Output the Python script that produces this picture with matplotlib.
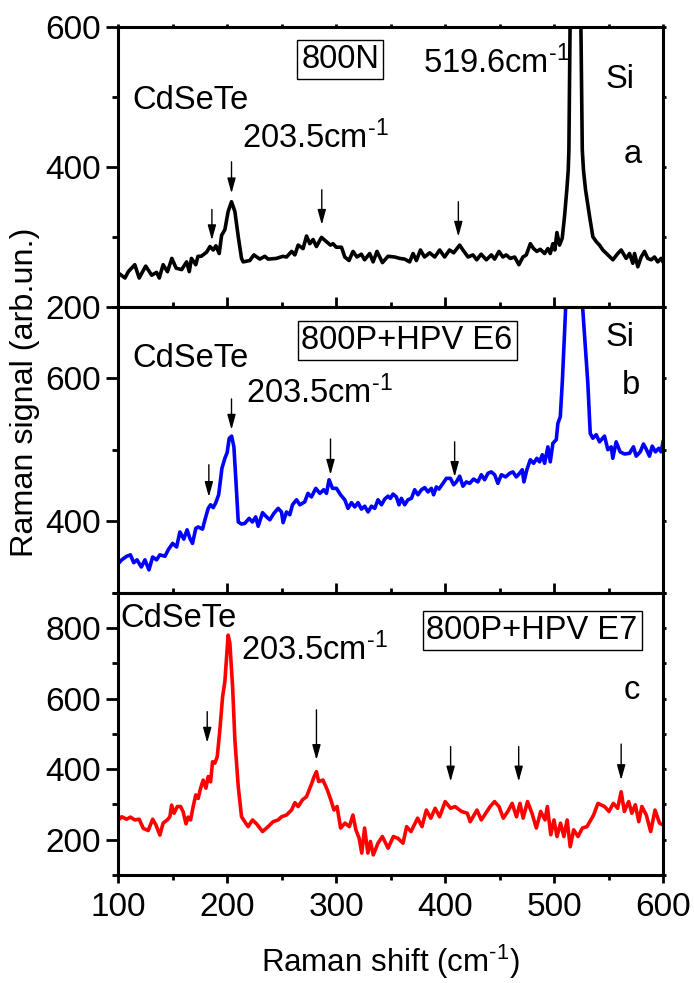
import matplotlib

matplotlib.use("Agg")
import matplotlib.pyplot as plt
from matplotlib.ticker import MultipleLocator

plt.rcParams.update({
    "font.family": "Liberation Sans",
    "mathtext.fontset": "custom",
    "mathtext.rm": "Liberation Sans",
    "mathtext.default": "regular",
    "axes.linewidth": 2.2,
})

# ---- spectrum a: 800N (black) ----
shift_a = [100, 106, 109, 115, 119, 125, 130.5, 135, 137.5, 141, 145, 149, 153, 158, 162.6, 165,
           167, 171, 173, 176, 181, 184, 187, 189.5, 192.5, 194.7, 197.7, 200.7, 203.8, 206.9,
           210, 213, 214.5, 220.6, 224.3, 229.8, 234.4, 237.4, 245, 251, 254.3, 259, 262, 265,
           269.5, 272.7, 275.7, 278.7, 281.8, 286.4, 291, 294.7, 297, 300, 304.8, 307.8, 311.7,
           315.4, 319, 323, 326, 330.7, 333.8, 337.4, 342.4, 347.5, 353.7, 358.3, 362.8, 367.4,
           370.5, 373.6, 377.3, 381, 385.8, 390.4, 395, 399.5, 404, 407.8, 413.3, 416.3, 421,
           425.5, 429, 433, 437.8, 442.4, 445.4, 449.4, 453, 456, 459.8, 463.8, 467.7, 471.4,
           474.5, 478.2, 481.2, 484.2, 487.3, 491.3, 494.3, 496.5, 498.9, 500.7, 502.6, 505,
           507.5, 509.6, 511.7, 513, 513.6, 516.5, 519.6, 522.5, 525.9, 527, 528.9, 532.6, 535.6,
           538.7, 541.7, 544.8, 549.4, 554, 558.5, 561.6, 566.2, 569.3, 572.3, 573.9, 576.9, 580,
           583, 586, 589.2, 592.2, 595.2, 598.3, 600]
signal_a = [248, 241, 250, 260, 241, 258, 245, 249, 241, 260, 250, 269, 255, 253, 264, 250,
            269, 260, 272, 272, 278, 286, 281, 287, 276, 302, 310, 336, 350, 336,
            300, 269, 264, 266, 274, 268, 272, 268, 269, 272, 271, 279, 274, 288,
            283, 301, 290, 296, 286, 299, 293, 288, 290, 285, 285, 271, 266,
            279, 271, 275, 267, 276, 264, 279, 263, 272, 271, 269, 268, 264,
            276, 266, 281, 271, 277, 271, 281, 271, 281, 277, 288, 281, 271,
            274, 267, 275, 267, 274, 268, 279, 271, 274, 269, 271, 260, 271,
            274, 290, 283, 279, 282, 276, 283, 276, 290, 281, 306, 288,
            298, 329, 367, 395, 424, 900, 1500, 900, 424, 395, 367, 329, 300,
            293, 288, 281, 274, 267, 276, 281, 269, 276, 262, 276, 257, 271,
            279, 269, 267, 271, 264, 269, 264]

# ---- spectrum b: 800P+HPV E6 (blue) ----
shift_b = [100, 103, 107.5, 111, 114, 117, 121, 124.3, 128, 131.4, 135, 138, 142.7, 145.7, 149.7,
           153.4, 156.4, 160, 163, 165.6, 168, 171, 173.2, 177.2, 179.4, 182.4, 184.6, 187, 189.4,
           192, 195, 197.7, 199.8, 201.7, 203.9, 206, 207.8, 210, 213, 216, 220, 223, 226, 228.3,
           232.3, 236, 239, 242.7, 246.6, 249.7, 251.2, 254.3, 257.3, 259.8, 263.5, 266.5, 271,
           274, 277.2, 281.2, 284.9, 288.5, 291, 293.4, 296.5, 300.2, 303.9, 307.8, 310.8, 314,
           317, 320, 323.1, 326.1, 329.2, 332.3, 335.3, 338.3, 341.5, 344.5, 347.5, 349.7, 352.1,
           355.2, 357.6, 359.8, 362.8, 365.8, 369, 372, 375, 378.2, 381.2, 384.2, 387.3, 389.4,
           391.9, 394.3, 398, 401.1, 404.8, 407.8, 410.3, 413.3, 416.3, 419.4, 422.5, 426.1, 430,
           433.2, 436.2, 439.3, 442.4, 445.4, 448.4, 451.6, 455.5, 459.2, 462.2, 465.3, 468.3,
           470.8, 472.3, 475, 478.2, 481.2, 484.2, 486.7, 489.2, 491.3, 494.3, 496.5, 498.9, 502,
           503.5, 505.7, 507.5, 509.6, 513.5, 518.8, 524.5, 526.4, 528.9, 531, 533.2, 535.6, 538.7,
           541.7, 546.3, 549.4, 552.5, 553.9, 557, 560.7, 564.7, 569.3, 572.9, 575.4, 579.1, 582.1,
           584.6, 587.6, 590.1, 593.1, 596.1, 598.3, 600]
signal_b = [341, 346, 351, 353, 342, 346, 336, 346, 332, 350, 346, 353, 351, 360, 369,
            364, 385, 375, 388, 376, 369, 390, 392, 389, 402, 418, 423, 419, 426,
            437, 474, 488, 496, 516, 519, 504, 458, 399, 396, 397, 404, 399, 406, 393,
            412, 406, 402, 411, 418, 413, 398, 413, 409, 423, 430, 423, 427,
            439, 434, 446, 439, 444, 439, 458, 446, 446, 437, 430, 418, 426,
            420, 426, 417, 421, 413, 421, 418, 430, 423, 431, 435, 432, 438,
            434, 423, 432, 423, 430, 432, 444, 437, 444, 447, 441, 446, 437,
            448, 445, 453, 460, 460, 451, 455, 463, 449, 455, 453, 459, 455,
            465, 458, 467, 469, 465, 453, 465, 462, 467, 469, 462, 467,
            472, 455, 472, 486, 481, 488, 483, 493, 481, 504, 483, 509, 514,
            537, 546, 593, 663, 800, 1200, 800, 695, 640, 593, 523, 516, 521,
            511, 519, 500, 504, 488, 511, 497, 494, 495, 504, 491, 497, 508,
            501, 491, 505, 497, 502, 497, 511]

# ---- spectrum c: 800P+HPV E7 (red) ----
shift_c = [100, 103, 107.5, 111, 115, 119, 122.8, 127.3, 131.4, 134.4, 138, 141, 144.8, 147.2,
           148.8, 151, 154, 157, 159.4, 162, 164, 166.2, 168.6, 171, 173.2, 175.4, 177.8, 180.3,
           182.4, 184.6, 186.4, 188.5, 190.7, 193.1, 195.6, 197.7, 199.3, 200.7, 202.3, 204.8,
           206.9, 210, 213, 216, 219, 223.1, 226.8, 232.3, 237.4, 242, 246.6, 249.7, 254.3, 258.9,
           262, 265, 269, 272.7, 275, 277.5, 279.7, 281.8, 283.8, 287.8, 291.8, 295, 297.9, 300.7,
           304, 308, 312, 315.3, 318, 321, 323.4, 326, 329, 331.4, 334, 338.3, 342.3, 347.6,
           352.4, 356.5, 361.3, 364.6, 368.6, 374.7, 378.7, 382.7, 386.8, 390.8, 394.9, 400, 405,
           409, 415, 420.3, 423, 429.2, 433.2, 437.3, 441.3, 445.3, 449.4, 453.4, 457.5, 461.5,
           465.5, 468.7, 471.6, 475.6, 479.7, 483.7, 487.7, 491.7, 493.8, 497, 499.9, 502.7, 505.9,
           509, 512, 514.8, 518, 522, 526, 530.2, 536.3, 540.3, 546.3, 550.4, 554.4, 558.4, 561.6,
           564.5, 568.5, 571.4, 574.6, 577.8, 580.6, 584.7, 588.7, 592.7, 596.8, 600]
signal_c = [256, 265, 258, 264, 256, 258, 232, 226, 258, 242, 213, 247, 256, 265,
            298, 275, 294, 294, 279, 245, 264, 256, 294, 327, 317, 346, 369, 346,
            379, 364, 421, 417, 435, 511, 605, 648, 719, 780, 757, 634,
            483, 350, 265, 251, 237, 256, 245, 223, 237, 251, 256, 265, 270, 284,
            305, 294, 313, 322, 340, 360, 379, 393, 365, 369, 341, 313, 284, 294,
            233, 247, 237, 270, 228, 204, 162, 233, 162, 195, 157, 190, 209, 176,
            209, 204, 190, 237, 223, 261, 237, 284, 261, 289, 265, 308, 289,
            294, 280, 275, 251, 284, 256, 275, 294, 308, 294, 261, 280, 303,
            265, 303, 261, 308, 275, 233, 280, 256, 294, 214, 256, 209, 247,
            209, 256, 180, 228, 209, 233, 237, 270, 303, 294, 280, 303, 289, 336,
            280, 308, 275, 299, 251, 294, 270, 223, 284, 247, 242]

# arrow markers: (shift, tail, tip)
arrows_a = [(185.8, 339, 295), (203.8, 407, 362), (286.7, 367, 317), (412.1, 350, 300)]
arrows_b = [(183, 479, 434), (203.8, 571, 528), (294.7, 515, 465), (408.7, 511, 462)]
arrows_c = [(181.5, 563, 475), (281.8, 568, 426), (405, 464, 365), (467.5, 464, 365), (561.6, 471, 369)]

FS_TEXT = 23.5
FS_TICK = 24
LW = 2.6
CM = r"cm$^{\text{-1}}$"


def style_axes(ax, ylim, bottom_out):
    ax.set_xlim(100, 600)
    ax.set_ylim(*ylim)
    ax.xaxis.set_major_locator(MultipleLocator(100))
    ax.xaxis.set_minor_locator(MultipleLocator(50))
    ax.yaxis.set_major_locator(MultipleLocator(200))
    ax.yaxis.set_minor_locator(MultipleLocator(100))
    ax.tick_params(axis="y", which="both", left=True, right=False, direction="out",
                   labelsize=FS_TICK, width=2, pad=4)
    ax.tick_params(axis="y", which="major", length=8.5)
    ax.tick_params(axis="y", which="minor", length=4.3)
    ax.tick_params(axis="x", which="both", bottom=True, top=False, width=2,
                   direction="out" if bottom_out else "in", labelsize=FS_TICK, pad=6,
                   labelbottom=bottom_out)
    ax.tick_params(axis="x", which="major", length=6 if bottom_out else 7)
    ax.tick_params(axis="x", which="minor", length=3.6)
    # short outward nubs on the right-hand frame
    rax = ax.secondary_yaxis("right")
    rax.yaxis.set_major_locator(MultipleLocator(100))
    rax.tick_params(axis="y", direction="out", length=2.2, width=2, labelright=False)
    rax.spines["right"].set_visible(False)


def draw_arrows(ax, arrows):
    for x, tail, tip in arrows:
        ax.annotate("", xy=(x, tip), xytext=(x, tail),
                    arrowprops=dict(arrowstyle="-|>,head_length=0.65,head_width=0.18",
                                    color="black", lw=1, shrinkA=0, shrinkB=0,
                                    mutation_scale=14))


def boxed(ax, x, y, s):
    ax.text(x, y, s, fontsize=FS_TEXT, ha="center", va="center",
            bbox=dict(boxstyle="square,pad=0.12", fc="white", ec="black", lw=1))


fig = plt.figure(figsize=(6.94, 9.83), dpi=100)
ax_a = fig.add_axes([0.1707, 0.6880, 0.7846, 0.2848])
ax_b = fig.add_axes([0.1707, 0.3970, 0.7846, 0.2910])
ax_c = fig.add_axes([0.1707, 0.1099, 0.7846, 0.2871])

# a
ax_a.plot(shift_a, signal_a, color="black", lw=LW)
style_axes(ax_a, (200, 600), False)
tax = ax_a.secondary_xaxis("top")
tax.xaxis.set_major_locator(MultipleLocator(50))
tax.tick_params(axis="x", direction="out", length=2.2, width=2, labeltop=False)
tax.spines["top"].set_visible(False)
draw_arrows(ax_a, arrows_a)
boxed(ax_a, 303.5, 553, "800N")
ax_a.text(379.4, 548, "519.6" + CM, fontsize=FS_TEXT, va="center")
ax_a.text(547, 525, "Si", fontsize=FS_TEXT, va="center")
ax_a.text(112.4, 494, "CdSeTe", fontsize=FS_TEXT, va="center")
ax_a.text(213.3, 441, "203.5" + CM, fontsize=FS_TEXT, va="center")
ax_a.text(563.8, 418, "a", fontsize=FS_TEXT, va="center")

# b
ax_b.plot(shift_b, signal_b, color="#0000ff", lw=LW)
style_axes(ax_b, (300, 700), False)
draw_arrows(ax_b, arrows_b)
boxed(ax_b, 365, 653, "800P+HPV E6")
ax_b.text(112.4, 627, "CdSeTe", fontsize=FS_TEXT, va="center")
ax_b.text(217, 579, "203.5" + CM, fontsize=FS_TEXT, va="center")
ax_b.text(547, 657, "Si", fontsize=FS_TEXT, va="center")
ax_b.text(562, 590, "b", fontsize=FS_TEXT, va="center")

# c
ax_c.plot(shift_c, signal_c, color="#ff0000", lw=LW)
style_axes(ax_c, (100, 900), True)
draw_arrows(ax_c, arrows_c)
boxed(ax_c, 479.8, 794, "800P+HPV E7")
ax_c.text(101.4, 827, "CdSeTe", fontsize=FS_TEXT, va="center")
ax_c.text(212.4, 737, "203.5" + CM, fontsize=FS_TEXT, va="center")
ax_c.text(563.8, 624, "c", fontsize=FS_TEXT, va="center")

fig.text(0.562, 0.022, "Raman shift (" + CM + ")", fontsize=22.5, ha="center", va="center")
fig.text(0.036, 0.601, "Raman signal (arb.un.)", fontsize=23.3, ha="center", va="center",
         rotation=90)

fig.savefig("out.png", dpi=100)
